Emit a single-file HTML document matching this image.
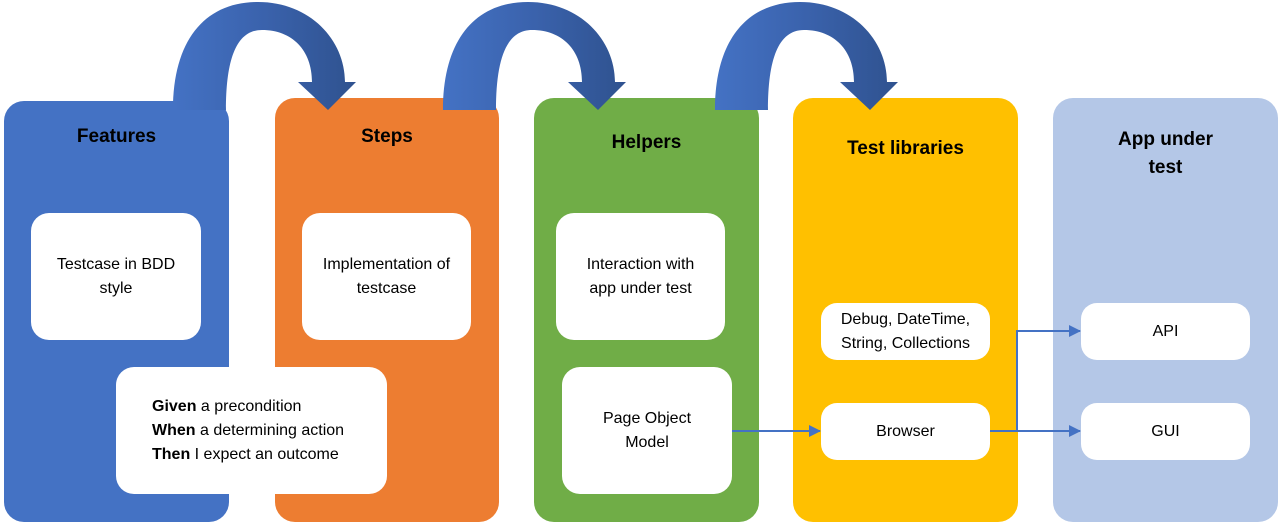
<!DOCTYPE html>
<html><head><style>
body{margin:0;width:1282px;height:525px;background:#fff;position:relative;overflow:hidden;font-family:"Liberation Sans",sans-serif;}
.p{position:absolute;border-radius:20px;}
.t{position:absolute;font-weight:bold;font-size:19px;color:#000;text-align:center;line-height:28px;}
.b{position:absolute;background:#fff;border-radius:18px;display:flex;align-items:center;justify-content:center;text-align:center;font-size:16px;line-height:24px;color:#000;}
svg{position:absolute;left:0;top:0;}
</style></head><body>
<div class="p" style="left:4px;top:101px;width:225px;height:421px;background:#4472C4"></div>
<div class="p" style="left:275px;top:98px;width:224px;height:424px;background:#ED7D31"></div>
<div class="p" style="left:534px;top:98px;width:225px;height:424px;background:#70AD47"></div>
<div class="p" style="left:793px;top:98px;width:225px;height:424px;background:#FFC000"></div>
<div class="p" style="left:1053px;top:98px;width:225px;height:424px;background:#B4C7E7"></div>
<div class="t" style="left:4px;top:123px;width:225px">Features</div>
<div class="t" style="left:275px;top:123px;width:224px">Steps</div>
<div class="t" style="left:534px;top:129px;width:225px">Helpers</div>
<div class="t" style="left:793px;top:135px;width:225px">Test libraries</div>
<div class="t" style="left:1053px;top:126px;width:225px">App under<br>test</div>
<div class="b" style="left:31px;top:213px;width:170px;height:127px">Testcase in BDD<br>style</div>
<div class="b" style="left:302px;top:213px;width:169px;height:127px">Implementation of<br>testcase</div>
<div class="b" style="left:556px;top:213px;width:169px;height:127px">Interaction with<br>app under test</div>
<div class="b" style="left:116px;top:367px;width:271px;height:127px;text-align:left;justify-content:flex-start;padding-left:36px;box-sizing:border-box"><div><b>Given</b> a precondition<br><b>When</b> a determining action<br><b>Then</b> I expect an outcome</div></div>
<div class="b" style="left:562px;top:367px;width:170px;height:127px">Page Object<br>Model</div>
<div class="b" style="left:821px;top:303px;width:169px;height:57px;border-radius:16px">Debug, DateTime,<br>String, Collections</div>
<div class="b" style="left:821px;top:403px;width:169px;height:57px;border-radius:16px">Browser</div>
<div class="b" style="left:1081px;top:303px;width:169px;height:57px;border-radius:16px">API</div>
<div class="b" style="left:1081px;top:403px;width:169px;height:57px;border-radius:16px">GUI</div>
<svg width="1282" height="525">
<defs>
<linearGradient id="g" x1="0" x2="1" y1="0" y2="0"><stop offset="0" stop-color="#4472C4"/><stop offset="0.5" stop-color="#3A62AC"/><stop offset="1" stop-color="#2F528F"/></linearGradient>
<g id="arc"><path d="M173,110 C173,40 205,2 258,2 C310,2 345,40 345,82 L356,82 L328,110 L298,82 L312,82 C312,50 292,30 262,30 C236,30 226,60 226,110 Z" fill="url(#g)"/></g>
<marker id="m" markerWidth="12" markerHeight="12" refX="11" refY="6" orient="auto" markerUnits="userSpaceOnUse"><path d="M0,0 L12,6 L0,12 Z" fill="#4472C4"/></marker>
</defs>
<use href="#arc"/>
<use href="#arc" x="270"/>
<use href="#arc" x="542"/>
<g stroke="#4472C4" stroke-width="2" fill="none">
<path d="M732,431 L820,431" marker-end="url(#m)"/>
<path d="M990,431 L1080,431" marker-end="url(#m)"/>
<path d="M1017,431 L1017,331 L1080,331" marker-end="url(#m)"/>
</g>
</svg>
</body></html>
